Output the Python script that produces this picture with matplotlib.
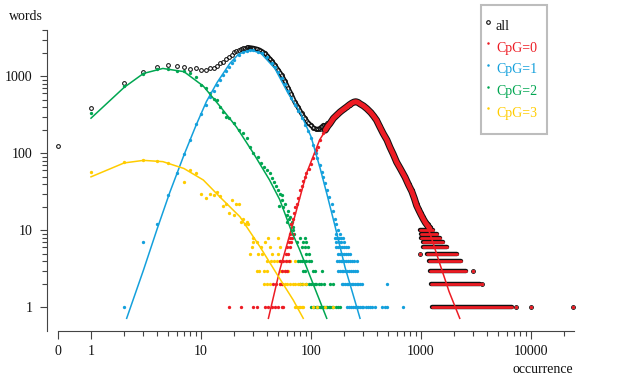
import matplotlib
matplotlib.use("Agg")
import matplotlib.pyplot as plt
from matplotlib.lines import Line2D
from matplotlib.patches import Rectangle
from matplotlib.ticker import FixedLocator, FixedFormatter, NullFormatter

plt.rcParams['font.family'] = ['Liberation Serif', 'DejaVu Serif']

# --- data (x = occurrence, y = number of words) ---
# "0" occurrence is drawn at x = 0.5 on the log axis
all_x = [0.5, 1, 2, 3, 4, 5, 6, 7, 8, 9, 10, 11, 12, 13, 14, 15, 16, 17, 18, 19,
         20, 21, 22, 23, 24, 25, 26, 27, 28, 29, 30, 32, 34, 36, 38, 40, 42, 44, 47, 50,
         54, 58, 62, 66, 71, 76, 82, 88, 94, 100, 105, 110, 115, 120, 125, 130, 140, 149, 160, 172,
         184, 200, 211, 224, 235, 246, 256, 268, 280, 300, 322, 350, 372, 394, 420, 453, 490, 522, 560, 600,
         650, 716, 770, 825, 870, 912, 960, 1000, 1050, 1100, 1150, 1207]
all_y = [125, 390, 826, 1150, 1330, 1390, 1370, 1330, 1256, 1265, 1197, 1205, 1265, 1290, 1373, 1475, 1549, 1663, 1783, 1900,
         2050, 2150, 2220, 2280, 2330, 2360, 2380, 2370, 2360, 2340, 2320, 2270, 2200, 2100, 1990, 1850, 1700, 1570, 1390, 1220,
         1040, 860, 700, 590, 467, 400, 330, 285, 250, 230, 215, 208, 205, 210, 220, 232, 245, 256, 290, 320,
         347, 380, 402, 430, 450, 465, 470, 460, 440, 415, 382, 340, 305, 271, 225, 182, 150, 121, 98, 78,
         64, 50, 40, 33, 27, 22, 19, 17, 15, 13, 12, 11]

# CpG=0
cpg0_x = [18, 23, 30, 32, 38, 41, 44, 47, 50, 54, 56,
          45, 48, 52, 54, 54, 58, 61, 52, 56, 59, 63, 59, 62, 61, 64, 63, 66, 64, 67, 65, 68,
          66, 68, 70, 72, 74, 76, 79, 82, 85, 88, 91, 95, 99, 104, 108, 112, 116, 122, 129,
          135, 142, 149, 160, 172, 184, 200, 211, 224, 235, 246, 256, 268, 280, 300, 322, 350, 372, 394, 420,
          453, 490, 522, 560, 600, 650, 716, 770, 825, 870, 912, 960, 1000, 1050, 1100, 1150, 1207]
cpg0_y = [1, 1, 1, 1, 1, 1, 1, 1, 1, 1, 1,
          2, 2, 2, 2, 3, 3, 3, 4, 4, 4, 4, 5, 5, 6, 6, 7, 7, 8, 8, 9, 9,
          12, 14, 17, 20, 22, 26, 33, 38, 44, 50, 55, 63, 72, 88, 100, 112, 121, 150, 182,
          200, 225, 245, 285, 315, 345, 378, 400, 428, 448, 463, 468, 458, 438, 413, 380, 338, 303, 270, 224,
          181, 149, 120, 97, 77, 63, 49, 39, 32, 26, 21, 18, 16, 14, 12.5, 11.5, 10.5]

# long runs of single words in the high-occurrence tail (y, from, to)
tail_run_y = [10, 9, 8, 7, 6, 5, 4, 3, 2, 1]
tail_run_x0 = [980, 990, 1000, 1040, 1050, 1140, 1170, 1220, 1230, 1270]
tail_run_x1 = [1290, 1390, 1490, 1600, 1720, 2130, 2330, 2560, 3450, 6700]
tail_x = [980, 2950, 3600, 7300, 10000, 24300]
tail_y = [5, 3, 2, 1, 1, 1]

# CpG=1
cpg1_x = [2, 3, 4, 5, 6, 7, 8, 9, 10, 11, 12, 13, 14, 15, 16, 17, 18, 19, 20, 22,
          24, 26, 28, 30, 33, 36, 40, 44, 47, 50, 54, 58, 62, 66, 71, 76, 82, 88, 94, 100,
          105, 110, 114, 120, 125, 129, 134, 140, 147, 154, 160, 165, 170, 177]
cpg1_y = [1, 7, 12, 29, 55, 98, 150, 240, 320, 420, 540, 650, 780, 890, 1030, 1180, 1340, 1480, 1640, 1880,
          2050, 2150, 2200, 2180, 2100, 1980, 1760, 1510, 1320, 1140, 960, 800, 640, 520, 420, 350, 290, 235, 195, 160,
          128, 100, 88, 70, 58, 50, 41, 33, 27, 22, 18, 14, 12, 10]
cpg1_rows_y = [9, 8, 7, 6, 5, 4, 3, 2, 1]
cpg1_rows_x = [[170, 182],
               [165, 172, 180, 188, 195],
               [170, 178, 186, 200],
               [170, 176, 183, 190, 200, 210, 218],
               [175, 182, 190, 198, 206, 215, 225],
               [174, 180, 186, 193, 200, 208, 216, 225, 235, 247, 260],
               [177, 183, 190, 197, 204, 212, 220, 230, 240, 250, 260],
               [190, 197, 204, 211, 218, 226, 234, 242, 250, 260, 270, 280, 290, 490],
               [211, 220, 230, 240, 250, 260, 270, 280, 290, 300, 315, 330, 345, 360, 380, 440, 470, 490, 680]]

# CpG=2
cpg2_x = [1, 2, 3, 4, 5, 6, 7, 8, 9, 10, 11, 12, 13, 14, 15, 16, 17, 18, 20, 22,
          24, 26, 28, 30, 33, 35, 37, 40, 42, 44, 46, 48, 50, 51, 52, 54, 55, 56, 58, 60,
          61, 62, 63, 65, 66, 67, 68, 69, 70]
cpg2_y = [335, 750, 1065, 1230, 1250, 1180, 1170, 1110, 970, 770, 700, 600, 505, 490, 402, 345, 298, 290, 246, 201,
          182, 156, 121, 102, 90, 74, 67, 60, 55, 48, 42, 38, 33, 21, 30, 29, 25, 20, 22, 16,
          13, 18, 14, 15, 12, 13, 10, 11, 9]
cpg2_rows_y = [8, 7, 6, 5, 4, 3, 2, 1]
cpg2_rows_x = [[80, 88],
               [74, 85, 90],
               [82, 88, 94],
               [91, 96],
               [76, 79, 83, 87, 91, 96, 101],
               [85, 88, 104, 109, 127],
               [79, 82, 91, 95, 100, 104, 108, 112, 118, 124, 130, 150, 158],
               [101, 104, 107, 110, 113, 116, 120, 124, 128, 132, 136, 140, 145, 150, 155, 160, 168, 175, 183]]

# CpG=3
cpg3_x = [1, 2, 3, 4, 5, 7, 8, 9, 10, 11, 12, 13, 14, 15, 16, 17, 18, 19, 20, 21, 22, 23, 24, 25, 26, 27]
cpg3_y = [58, 76, 83, 80, 74, 43, 61, 55, 30, 26, 30, 29, 31, 28, 21, 22, 17, 25, 16, 22, 22, 13, 14, 12, 13, 12]
cpg3_rows_y = [8, 7, 6, 5, 4, 3, 2, 1]
cpg3_rows_x = [[30, 41, 50],
               [30, 32, 38],
               [29, 35, 42, 52],
               [28, 33, 36, 44, 50],
               [40, 43, 46, 49, 52, 55, 60, 65, 71],
               [32, 34, 37, 40, 52, 55, 58, 62],
               [37, 40, 42, 52, 55, 58, 61, 64, 68, 72, 76, 80, 85, 91],
               [71, 74, 77, 80, 82, 85, 104, 113, 134, 158]]

# fitted curves
fit0_x = [41, 52, 67, 91, 120, 160, 200, 257, 330, 420, 560, 720, 900, 1207, 1500, 1800, 2250]
fit0_y = [0.72, 3.05, 11, 55, 150, 290, 390, 460, 380, 230, 105, 45, 22, 9.1, 3.5, 1.6, 0.72]
fit1_x = [2.11, 3, 4, 5.2, 7, 9, 11.2, 14, 18.3, 22, 28, 35, 47, 62, 79.4, 100, 121, 140, 165, 204, 240, 279]
fit1_y = [0.72, 3.05, 10.5, 31, 95, 230, 470, 830, 1470, 1950, 2200, 2000, 1265, 600, 344, 165, 64, 29, 11.5, 3.3, 1.5, 0.72]
fit2_x = [1, 2, 3, 4.5, 7, 10.5, 15, 21, 30, 42, 52, 66, 79, 104, 139]
fit2_y = [286, 718, 1090, 1265, 1150, 746, 402, 220, 100, 45, 25, 10, 5.55, 2.05, 0.72]
fit3_x = [1, 2, 3, 4.5, 7, 10.5, 14.9, 22.6, 34.4, 48.5, 69, 85]
fit3_y = [49.5, 75, 81, 78, 63.5, 45, 27, 15, 6.1, 2.76, 1.24, 0.72]

labels = ['all', 'CpG=0', 'CpG=1', 'CpG=2', 'CpG=3']
colors = ['#111111', '#ed1c24', '#14a0dc', '#00a651', '#ffcc00']


def rows_to_xy(rows_y, rows_x):
    xs, ys = [], []
    for yv, xv in zip(rows_y, rows_x):
        xs += xv
        ys += [yv] * len(xv)
    return xs, ys


def part(xs, ys, lo, hi):
    # points of a series with lo <= x <= hi
    sel = [(a, b) for a, b in zip(xs, ys) if lo <= a <= hi]
    return [a for a, _ in sel], [b for _, b in sel]


W, H = 627, 388
fig = plt.figure(figsize=(W / 100, H / 100), dpi=100)
ax = fig.add_axes([47 / W, (H - 330.5) / H, (575 - 47) / W, (330.5 - 26) / H])
ax.set_xscale('log')
ax.set_yscale('log')
ax.set_xlim(10 ** ((47 - 91) / 110), 10 ** ((575 - 91) / 110))
ax.set_ylim(0.5, 0.5 * 10 ** ((330.5 - 26) / 77))

red, blue, green, yellow = colors[1:]
circ = dict(ls='none', marker='o', mfc='none', mec='#111111', ms=2.7, mew=0.75)
dot = dict(ls='none', marker='o', mec='none', ms=2.4)

# all words: open circles, the dense middle stretch drawn as a ringed band
bx, by = part(all_x, all_y, 28, 135)
ax.plot(bx, by, color='#111111', lw=3.4, solid_capstyle='round', solid_joinstyle='round', zorder=2)
ax.plot(bx, by, color='white', lw=1.1, solid_capstyle='round', zorder=2.1)
ax.plot(all_x, all_y, zorder=2.2, **circ)
ax.plot(tail_x, tail_y, zorder=2.2, **circ)
for yv, x0, x1 in zip(tail_run_y, tail_run_x0, tail_run_x1):
    ax.plot([x0, x1], [yv, yv], color='#111111', lw=3.2, solid_capstyle='round', zorder=2.2)

# CpG=0: dense stretch is a red band with a black rim
rx, ry = part(cpg0_x, cpg0_y, 135, 1207)
ax.plot(rx, ry, color='#111111', lw=5.0, solid_capstyle='round', solid_joinstyle='round', zorder=2.3)
ax.plot(rx, ry, color=red, lw=3.5, solid_capstyle='round', solid_joinstyle='round', zorder=3.1)
ax.plot(cpg0_x, cpg0_y, color=red, zorder=3.2, **dot)
ax.plot(tail_x, tail_y, color=red, zorder=3.2, **dot)
for yv, x0, x1 in zip(tail_run_y, tail_run_x0, tail_run_x1):
    ax.plot([x0, x1], [yv, yv], color=red, lw=2.0, solid_capstyle='round', zorder=3.2)

ax.plot(cpg1_x, cpg1_y, color=blue, zorder=3, **dot)
ax.plot(*rows_to_xy(cpg1_rows_y, cpg1_rows_x), color=blue, zorder=3, **dot)
ax.plot(cpg2_x, cpg2_y, color=green, zorder=3, **dot)
ax.plot(*rows_to_xy(cpg2_rows_y, cpg2_rows_x), color=green, zorder=3, **dot)
ax.plot(cpg3_x, cpg3_y, color=yellow, zorder=3, **dot)
ax.plot(*rows_to_xy(cpg3_rows_y, cpg3_rows_x), color=yellow, zorder=3, **dot)

# fitted curves
ax.plot(fit0_x, fit0_y, color=red, lw=1.1, zorder=4)
ax.plot(fit1_x, fit1_y, color=blue, lw=1.1, zorder=4)
ax.plot(fit2_x, fit2_y, color=green, lw=1.1, zorder=4)
ax.plot(fit3_x, fit3_y, color=yellow, lw=1.1, zorder=4)

# axes styling
for s in ['top', 'right']:
    ax.spines[s].set_visible(False)
ax.spines['left'].set_bounds(0.5, 4000)
ax.spines['bottom'].set_bounds(0.5, 24500)
for s in ['left', 'bottom']:
    ax.spines[s].set_color('#444444')
    ax.spines[s].set_linewidth(0.8)

ax.xaxis.set_major_locator(FixedLocator([0.5, 1, 10, 100, 1000, 10000]))
ax.xaxis.set_major_formatter(FixedFormatter(['0', '1', '10', '100', '1000', '10000']))
ax.xaxis.set_minor_locator(FixedLocator([m * 10 ** e for e in range(0, 4) for m in range(2, 10)] + [20000]))
ax.xaxis.set_minor_formatter(NullFormatter())
ax.yaxis.set_major_locator(FixedLocator([1, 10, 100, 1000]))
ax.yaxis.set_major_formatter(FixedFormatter(['1', '10', '100', '1000']))
ax.yaxis.set_minor_locator(FixedLocator([m * 10 ** e for e in range(0, 3) for m in range(2, 10)] + [2000, 3000, 4000]))
ax.yaxis.set_minor_formatter(NullFormatter())
ax.tick_params(which='major', direction='out', length=5.4, width=0.8, color='#444444',
               labelsize=10, labelcolor='#111111', pad=5)
ax.tick_params(which='minor', direction='out', length=3.4, width=0.8, color='#444444')

fig.text(26 / W, 1 - 17 / H, 'words', ha='center', va='center', fontsize=10, color='#111111')
fig.text(573 / W, 1 - 373 / H, 'occurrence', ha='right', va='baseline', fontsize=10, color='#111111')

# legend box drawn by hand
fig.patches.append(Rectangle((481 / W, 1 - 134 / H), 66 / W, 129.3 / H, transform=fig.transFigure,
                             fill=False, edgecolor='#bdbdbd', lw=1.5))
for i, (lab, c) in enumerate(zip(labels, colors)):
    base = 30 + 21.7 * i
    if i == 0:
        fig.add_artist(Line2D([488 / W], [1 - (base - 8.5) / H], transform=fig.transFigure,
                              marker='o', mfc='none', mec=c, ms=2.6, mew=0.8))
    else:
        fig.add_artist(Line2D([488 / W], [1 - (base - 8.5) / H], transform=fig.transFigure,
                              marker='o', mec='none', color=c, ms=1.8))
    fig.text(496 / W, 1 - base / H, lab, ha='left', va='baseline', fontsize=10, color=c)

fig.savefig('out.png', dpi=100)
